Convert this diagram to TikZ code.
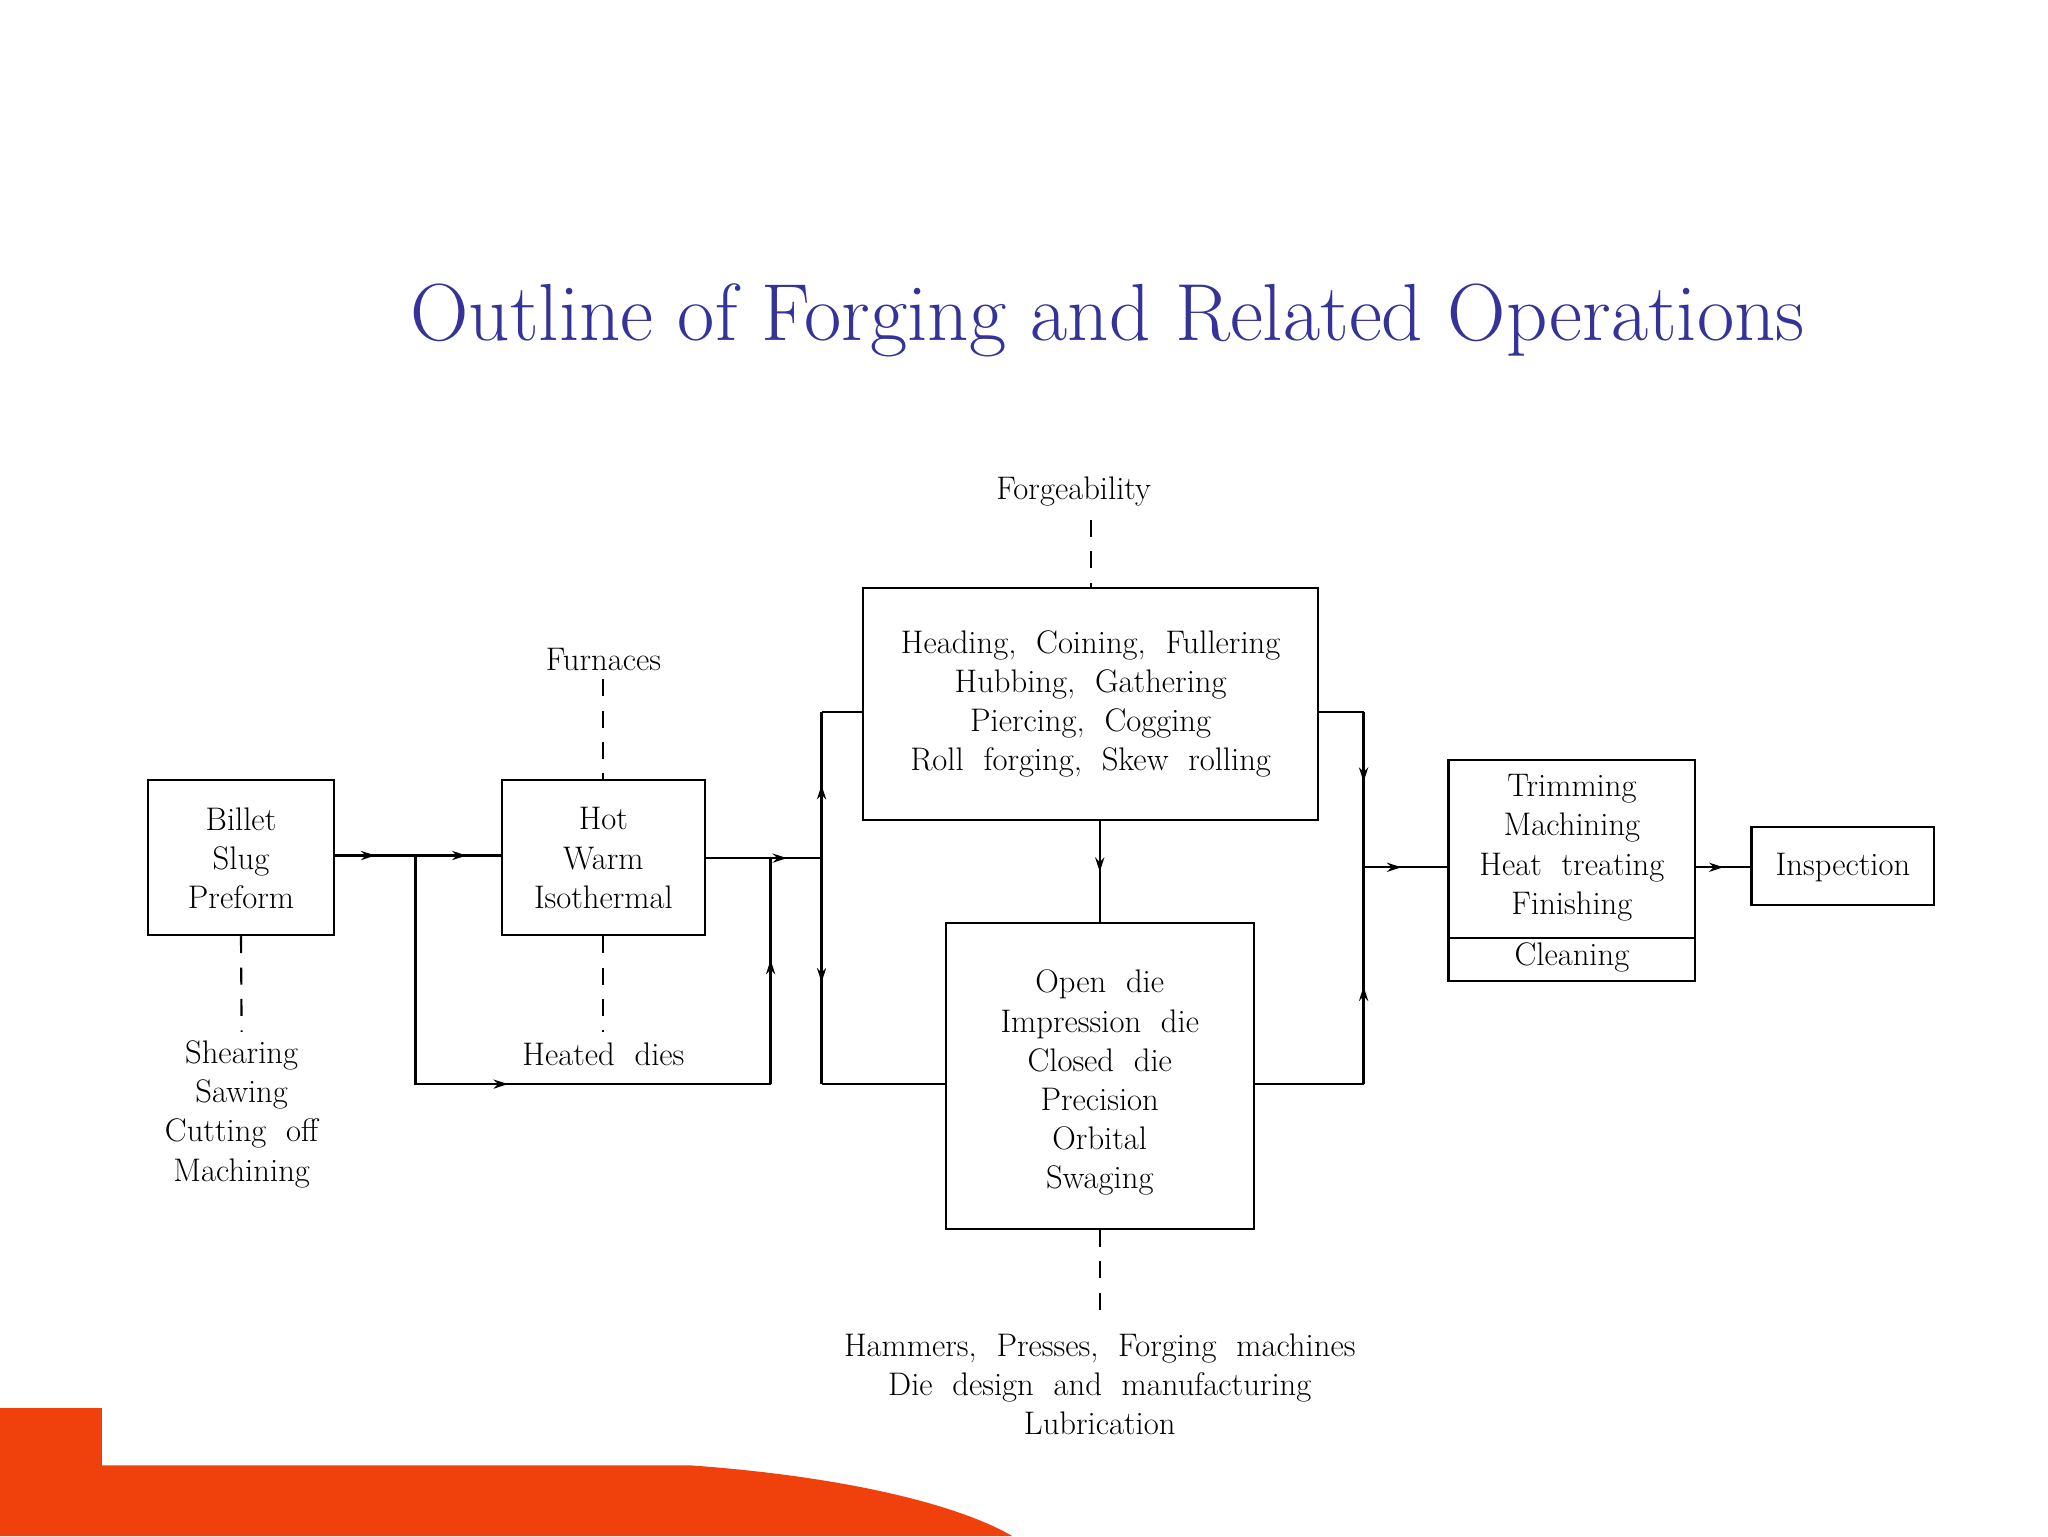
\documentclass[tikz,border=0pt]{standalone}
\usetikzlibrary{decorations.markings,arrows.meta}
\definecolor{titleblue}{HTML}{333399}
\definecolor{barorange}{HTML}{F0400C}
\begin{document}
\begin{tikzpicture}[x=1pt,y=-1pt,
  box/.style={draw,line width=1.6pt,inner sep=0pt},
  txt/.style={font=\fontsize{25}{30}\selectfont,align=center,inner sep=0pt},
  ln/.style={line width=1.8pt},
  dsh/.style={line width=1.6pt,dash pattern=on 13pt off 11pt},
  ma/.style={postaction={decorate},decoration={markings,mark=at position #1 with {\arrow{Stealth[length=11pt,width=7pt]}}}}]
\useasboundingbox (0,0) rectangle (1568,1176);
\fill[white] (0,0) rectangle (1568,1176);
\fill[barorange] (0,1176) -- (0,1078) -- (78,1078) -- (78,1122) -- (530,1122) .. controls (640,1130) and (730,1150) .. (775,1176) -- cycle;
\node[font=\fontsize{62}{70}\selectfont,text=titleblue] (title) at (848,245) {Outline of Forging and Related Operations};
% boxes
\node[box,minimum width=143pt,minimum height=119pt] (billet) at (184.5,656.5) {};
\node[txt] (billett) at (184.5,657) {Billet\\Slug\\Preform};
\node[box,minimum width=156pt,minimum height=119pt] (hot) at (462,656.5) {};
\node[txt] (hott) at (462,657) {Hot\\Warm\\Isothermal};
\node[box,minimum width=348pt,minimum height=178pt] (top) at (835,539) {};
\node[txt] (topt) at (835,539) {Heading,\ \ Coining,\ \ Fullering\\Hubbing,\ \ Gathering\\Piercing,\ \ Cogging\\Roll\ \ forging,\ \ Skew\ \ rolling};
\node[box,minimum width=236pt,minimum height=234pt] (open) at (842,824) {};
\node[txt] (opent) at (842,829) {Open\ \ die\\Impression\ \ die\\Closed\ \ die\\Precision\\Orbital\\Swaging};
\node[box,minimum width=189pt,minimum height=169pt] (trim) at (1203.5,666.5) {};
\draw[line width=1.6pt] (trim.west |- 0,718) -- (trim.east |- 0,718);
\node[txt] (trimt) at (1203.5,649) {Trimming\\Machining\\Heat\ \ treating\\Finishing};
\node[txt] (clean) at (1203.5,733) {Cleaning};
\node[box,minimum width=140pt,minimum height=60pt] (insp) at (1411,663) {};
\node[txt] (inspt) at (1411,664) {Inspection};
% annotations
\node[txt] (forg) at (822,376) {Forgeability};
\node[txt] (furn) at (462,505) {Furnaces};
\node[txt] (hdies) at (462,807) {Heated\ \ dies};
\node[txt] (shear) at (185,853) {Shearing\\Sawing\\Cutting\ \ off\\Machining};
\node[txt] (hamm) at (842,1060) {Hammers,\ \ Presses,\ \ Forging\ \ machines\\Die\ \ design\ \ and\ \ manufacturing\\Lubrication};
\draw[dsh] (835,398) -- (top.north);
\draw[dsh] (462,520) -- (hot.north);
\draw[dsh] (hot.south) -- (462,790);
\draw[dsh] (billet.south) -- (185,790);
\draw[dsh] (open.south) -- (842,1012);
% connectors
\coordinate (b1) at (318,655);
\coordinate (b2) at (318,830);
\coordinate (b3) at (590,830);
\coordinate (b4) at (590,657);
\coordinate (c1) at (629,545);
\coordinate (c2) at (629,657);
\coordinate (c3) at (629,830);
\coordinate (d1) at (1044,545);
\coordinate (d2) at (1044,664);
\coordinate (d3) at (1044,830);
\draw[ln,ma=0.5] (billet.east |- b1) -- (b1);
\draw[ln,ma=0.6] (b1) -- (hot.west |- b1);
\draw[ln,ma=0.55] (b1) -- (b2) -- (b3);
\draw[ln,ma=0.55] (b3) -- (b4);
\draw[ln,ma=0.7] (hot.east |- c2) -- (c2);
\draw[ln,ma=0.5] (c2) -- (c1);
\draw[ln] (c1) -- (top.west |- c1);
\draw[ln,ma=0.55] (c2) -- (c3);
\draw[ln] (c3) -- (open.west |- c3);
\draw[ln,ma=0.5] (top.south -| 842,0) -- (open.north);
\draw[ln] (top.east |- d1) -- (d1);
\draw[ln,ma=0.45] (d1) -- (d2);
\draw[ln,ma=0.45] (d3) -- (d2);
\draw[ln] (open.east |- d3) -- (d3);
\draw[ln,ma=0.45] (d2) -- (trim.west |- d2);
\draw[ln,ma=0.5] (trim.east |- 0,664) -- (insp.west |- 0,664);
\end{tikzpicture}
\end{document}
